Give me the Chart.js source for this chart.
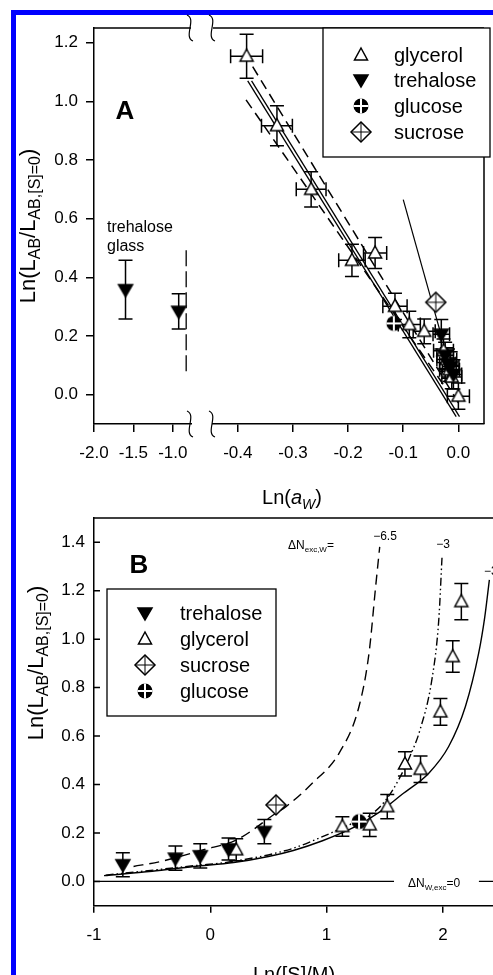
<!DOCTYPE html>
<html>
<head>
<meta charset="utf-8">
<script src="https://cdn.jsdelivr.net/npm/chart.js@4.4.0/dist/chart.umd.min.js"></script>
<style>
  html, body { margin: 0; padding: 0; background: #fff; }
  body { width: 493px; height: 975px; overflow: hidden; position: relative; }
  #frame { position: absolute; left: 11px; top: 10px; width: 600px; height: 1000px;
           border-left: 5px solid #0000ff; border-top: 5px solid #0000ff; box-sizing: border-box; }
  canvas { position: absolute; left: 0; }
  #chartA { top: 0; }
  #chartB { top: 495px; }
</style>
</head>
<body>
<div id="frame"></div>
<canvas id="chartA" width="493" height="510"></canvas>
<canvas id="chartB" width="510" height="490"></canvas>
<script>
const FONT = "'Liberation Sans', Arial, sans-serif";

// ---------- panel A : x = Ln(aw), y = Ln(L_AB / L_AB,[S]=0) ----------
const glyA_x    = [-0.384, -0.329, -0.267, -0.193, -0.151, -0.115, -0.089, -0.062, -0.027, -0.021, -0.016, -0.012, 0.000];
const glyA_y    = [ 1.154,  0.917,  0.700,  0.458,  0.483,  0.301,  0.239,  0.216,  0.150,  0.120,  0.085,  0.060, -0.005];
const glyA_xerr = [ 0.029,  0.028,  0.027,  0.024,  0.021,  0.022,  0.020,  0.020,  0.018,  0.018,  0.018,  0.018,  0.020];
const glyA_yerr = [ 0.075,  0.068,  0.060,  0.055,  0.053,  0.045,  0.045,  0.042,  0.040,  0.040,  0.040,  0.040,  0.045];

const treA_x    = [-1.600, -0.925, -0.031, -0.024, -0.019, -0.014, -0.009];
const treA_y    = [ 0.358,  0.284,  0.206,  0.134,  0.106,  0.096,  0.069];
const treA_xerr = [ 0,      0,      0.015,  0.015,  0.015,  0.015,  0.015];
const treA_yerr = [ 0.100,  0.060,  0.050,  0.045,  0.050,  0.050,  0.050];

const gluA_x = [-0.117];
const gluA_y = [ 0.243];
const sucA_x = [-0.041];
const sucA_y = [ 0.315];

const fitA1_x = [-0.382, -0.004];
const fitA1_y = [ 1.070, -0.075];
const fitA2_x = [-0.375,  0.002];
const fitA2_y = [ 1.070, -0.075];
const confA1_x = [-0.385, -0.022];
const confA1_y = [ 1.005,  0.020];
const confA2_x = [-0.373,  0.004];
const confA2_y = [ 1.118, -0.040];
const sucLineA_x = [-0.100, -0.033];
const sucLineA_y = [ 0.665,  0.215];
const glassLine_x = [-0.83, -0.83];
const glassLine_y = [ 0.08,  0.50];

const ticksA_x = [-2.0, -1.5, -1.0, -0.4, -0.3, -0.2, -0.1, 0.0];
const ticksA_y = [0.0, 0.2, 0.4, 0.6, 0.8, 1.0, 1.2];

// ---------- panel B : x = Ln([S]/M) ----------
const treB_x    = [-0.752, -0.300, -0.086, 0.157, 0.465];
const treB_y    = [ 0.069,  0.096,  0.106, 0.134, 0.206];
const treB_yerr = [ 0.050,  0.050,  0.050, 0.045, 0.050];

const glyB_x    = [0.223, 1.136, 1.371, 1.522, 1.674, 1.808, 1.979, 2.085, 2.159];
const glyB_y    = [0.131, 0.227, 0.234, 0.309, 0.485, 0.463, 0.700, 0.928, 1.155];
const glyB_yerr = [0.045, 0.040, 0.048, 0.050, 0.050, 0.055, 0.055, 0.065, 0.075];

const sucB_x = [0.565];
const sucB_y = [0.316];
const gluB_x = [1.279];
const gluB_y = [0.247];

// model curves, dNexc,W = -6.5 (dashed), -3 (dash-dot), -3 (solid)
const curve65_x = [-0.66, -0.43, -0.057, 0.228, 0.565, 0.651, 0.879, 1.108, 1.279, 1.365, 1.422, 1.457];
const curve65_y = [0.062, 0.082, 0.131, 0.172, 0.282, 0.309, 0.406, 0.530, 0.722, 0.942, 1.217, 1.381];
const curve3a_x = [-0.90, -0.14, 0.20, 0.70, 0.965, 1.20, 1.365, 1.50, 1.62, 1.72, 1.80, 1.908, 1.965, 1.993];
const curve3a_y = [0.026, 0.065, 0.083, 0.135, 0.185, 0.235, 0.270, 0.330, 0.420, 0.520, 0.620, 0.840, 1.080, 1.340];
const curve3b_x = [-0.914, -0.5, -0.143, 0.2, 0.5, 0.714, 0.965, 1.251, 1.451, 1.65, 1.879, 2.05, 2.194, 2.308, 2.36, 2.40];
const curve3b_y = [0.024, 0.042, 0.062, 0.078, 0.103, 0.128, 0.168, 0.227, 0.285, 0.360, 0.447, 0.557, 0.722, 0.942, 1.090, 1.245];
const zeroB1_x = [-1.0, 1.58];
const zeroB2_x = [2.31, 2.5];
const zero_y = [0, 0];

const ticksB_x = [-1, 0, 1, 2];
const ticksB_y = [0.0, 0.2, 0.4, 0.6, 0.8, 1.0, 1.2, 1.4];

// ---------- helpers ----------
Chart.defaults.font.family = FONT;
Chart.defaults.color = '#000';

// broken x axis of panel A: left part -2.0..-0.8, right part -0.445..0.05
function xvA(r) { return r < -0.6 ? (r + 2.0) * 80 : 370 + 560 * r; }
function ident(v) { return v; }

function drawMarker(ctx, type, x, y) {
  ctx.save();
  ctx.lineWidth = 1.5; ctx.strokeStyle = '#000'; ctx.fillStyle = '#000';
  ctx.beginPath();
  if (type === 'tri') {
    ctx.moveTo(x, y - 7); ctx.lineTo(x + 6.5, y + 5); ctx.lineTo(x - 6.5, y + 5); ctx.closePath();
    ctx.fillStyle = '#fff'; ctx.fill(); ctx.stroke();
  } else if (type === 'inv') {
    ctx.moveTo(x - 7, y - 5); ctx.lineTo(x + 7, y - 5); ctx.lineTo(x, y + 7); ctx.closePath();
    ctx.fill(); ctx.stroke();
  } else if (type === 'glu') {
    ctx.arc(x, y, 7.5, 0, Math.PI * 2); ctx.fill();
    ctx.strokeStyle = '#fff'; ctx.lineWidth = 2;
    ctx.beginPath();
    ctx.moveTo(x - 7.5, y); ctx.lineTo(x + 7.5, y); ctx.moveTo(x, y - 7.5); ctx.lineTo(x, y + 7.5);
    ctx.stroke();
  } else if (type === 'suc') {
    ctx.moveTo(x, y - 10); ctx.lineTo(x + 10, y); ctx.lineTo(x, y + 10); ctx.lineTo(x - 10, y); ctx.closePath();
    ctx.fillStyle = '#fff'; ctx.fill(); ctx.stroke();
    ctx.beginPath(); ctx.lineWidth = 1;
    ctx.moveTo(x - 10, y); ctx.lineTo(x + 10, y); ctx.moveTo(x, y - 10); ctx.lineTo(x, y + 10);
    ctx.stroke();
  }
  ctx.restore();
}

const markerImg = {};
['tri', 'inv', 'glu', 'suc'].forEach(t => {
  const c = document.createElement('canvas');
  c.width = 26; c.height = 26;
  drawMarker(c.getContext('2d'), t, 13, 13);
  markerImg[t] = c;
});

function fontOf(p) {
  return (p.bold ? 'bold ' : '') + (p.italic ? 'italic ' : '') + p.size + 'px ' + FONT;
}
// draws a run of text pieces (with sub-scripts) ; align 'center' or 'left'
function drawRich(ctx, parts, x, y, rot, align) {
  ctx.save();
  ctx.translate(x, y);
  if (rot) ctx.rotate(rot);
  ctx.fillStyle = '#000'; ctx.textAlign = 'left'; ctx.textBaseline = 'alphabetic';
  let w = 0;
  parts.forEach(p => { ctx.font = fontOf(p); w += ctx.measureText(p.t).width; });
  let cx = align === 'left' ? 0 : -w / 2;
  parts.forEach(p => {
    ctx.font = fontOf(p);
    ctx.fillText(p.t, cx, p.dy || 0);
    cx += ctx.measureText(p.t).width;
  });
  ctx.restore();
}

function drawLegend(ctx, box, entries, mx, tx) {
  ctx.save();
  ctx.strokeStyle = '#000'; ctx.lineWidth = 1.3;
  ctx.fillStyle = '#fff';
  ctx.fillRect(box[0], box[1], box[2] - box[0], box[3] - box[1]);
  ctx.strokeRect(box[0], box[1], box[2] - box[0], box[3] - box[1]);
  ctx.fillStyle = '#000';
  ctx.font = '20px ' + FONT;
  ctx.textBaseline = 'middle';
  entries.forEach(e => {
    drawMarker(ctx, e[0], mx, e[2]);
    ctx.fillText(e[1], tx, e[2] + 1);
  });
  ctx.restore();
}

function squiggle(ctx, cx, cy) {
  ctx.beginPath();
  ctx.moveTo(cx - 3, cy - 13);
  ctx.bezierCurveTo(cx + 7, cy - 9, cx - 7, cy + 9, cx + 3, cy + 13);
  ctx.stroke();
}

function pts(xs, ys, fx) { return xs.map((x, i) => ({ x: fx(x), y: ys[i] })); }

const errorBars = {
  id: 'errorBars',
  beforeDatasetsDraw(chart) {
    const ctx = chart.ctx, xs = chart.scales.x, ys = chart.scales.y;
    ctx.save();
    ctx.strokeStyle = '#000'; ctx.lineWidth = 1.5;
    chart.data.datasets.forEach(ds => {
      if (!ds.rawX || (!ds.errY && !ds.errX)) return;
      ds.rawX.forEach((rx, i) => {
        const ry = ds.rawY[i];
        const px = xs.getPixelForValue(ds.fx(rx)), py = ys.getPixelForValue(ry);
        const ey = ds.errY ? ds.errY[i] : 0, ex = ds.errX ? ds.errX[i] : 0;
        ctx.beginPath();
        if (ey) {
          const y1 = ys.getPixelForValue(ry + ey), y2 = ys.getPixelForValue(ry - ey);
          ctx.moveTo(px, y1); ctx.lineTo(px, y2);
          ctx.moveTo(px - 7, y1); ctx.lineTo(px + 7, y1);
          ctx.moveTo(px - 7, y2); ctx.lineTo(px + 7, y2);
        }
        if (ex) {
          const x1 = xs.getPixelForValue(ds.fx(rx - ex)), x2 = xs.getPixelForValue(ds.fx(rx + ex));
          ctx.moveTo(x1, py); ctx.lineTo(x2, py);
          ctx.moveTo(x1, py - 7); ctx.lineTo(x1, py + 7);
          ctx.moveTo(x2, py - 7); ctx.lineTo(x2, py + 7);
        }
        ctx.stroke();
      });
    });
    ctx.restore();
  }
};

function markerSet(xs, ys, type, fx, errX, errY) {
  return { data: pts(xs, ys, fx), pointStyle: markerImg[type], pointRadius: 8,
           rawX: xs, rawY: ys, fx: fx, errX: errX, errY: errY, showLine: false };
}
function lineSet(xs, ys, fx, dash, width, smooth) {
  return { data: pts(xs, ys, fx), showLine: true, pointRadius: 0, borderColor: '#000',
           borderWidth: width || 1.3, borderDash: dash || [], fill: false,
           cubicInterpolationMode: smooth ? 'monotone' : 'default' };
}

const tickFont = { family: FONT, size: 17 };

// ---------- panel A ----------
const panelA = {
  id: 'panelA',
  afterDraw(chart) {
    const ctx = chart.ctx, ca = chart.chartArea;
    ctx.save();
    ctx.strokeStyle = '#000'; ctx.lineWidth = 1.5;
    // frame: top with break, right side
    ctx.beginPath();
    ctx.moveTo(ca.left, ca.top); ctx.lineTo(191, ca.top);
    ctx.moveTo(213, ca.top); ctx.lineTo(ca.right, ca.top);
    ctx.moveTo(ca.right, ca.top); ctx.lineTo(ca.right, ca.bottom);
    ctx.stroke();
    // gap in the bottom axis line
    ctx.fillStyle = '#fff';
    ctx.fillRect(192, ca.bottom - 2, 20, 4);
    ctx.lineWidth = 1.2;
    squiggle(ctx, 190, ca.top);
    squiggle(ctx, 212, ca.top);
    squiggle(ctx, 190, ca.bottom);
    squiggle(ctx, 212, ca.bottom);

    ctx.fillStyle = '#000';
    ctx.font = 'bold 26px ' + FONT;
    ctx.textAlign = 'center';
    ctx.fillText('A', 125, 119);
    ctx.font = '16px ' + FONT;
    ctx.textAlign = 'left';
    ctx.fillText('trehalose', 107, 232);
    ctx.fillText('glass', 107, 251);
    ctx.restore();

    drawRich(ctx, [
      { t: 'Ln(L', size: 22 }, { t: 'AB', size: 16, dy: 5 }, { t: '/L', size: 22 },
      { t: 'AB,[S]=0', size: 16, dy: 5 }, { t: ')', size: 22 }
    ], 35, 226, -Math.PI / 2);
    drawRich(ctx, [
      { t: 'Ln(', size: 20 }, { t: 'a', size: 20, italic: true },
      { t: 'W', size: 14, italic: true, dy: 5 }, { t: ')', size: 20 }
    ], 292, 504);

    drawLegend(ctx, [323, 28, 490, 157], [
      ['tri', 'glycerol', 55], ['inv', 'trehalose', 80], ['glu', 'glucose', 106], ['suc', 'sucrose', 132]
    ], 361, 394);
  }
};

new Chart(document.getElementById('chartA'), {
  type: 'scatter',
  data: {
    datasets: [
      markerSet(sucA_x, sucA_y, 'suc', xvA),
      markerSet(gluA_x, gluA_y, 'glu', xvA),
      markerSet(treA_x, treA_y, 'inv', xvA, treA_xerr, treA_yerr),
      markerSet(glyA_x, glyA_y, 'tri', xvA, glyA_xerr, glyA_yerr),
      lineSet(sucLineA_x, sucLineA_y, xvA, [], 1.2),
      lineSet(glassLine_x, glassLine_y, xvA, [16, 5], 1.3),
      lineSet(fitA1_x, fitA1_y, xvA, [], 1.3),
      lineSet(fitA2_x, fitA2_y, xvA, [], 1.3),
      lineSet(confA1_x, confA1_y, xvA, [10, 6], 1.5),
      lineSet(confA2_x, confA2_y, xvA, [10, 6], 1.5)
    ]
  },
  options: {
    responsive: false, animation: false, devicePixelRatio: 1,
    layout: { padding: { left: 0, top: 28, right: 3, bottom: 0 } },
    plugins: { legend: { display: false }, tooltip: { enabled: false } },
    scales: {
      x: {
        type: 'linear', min: 0, max: 396,
        afterFit: s => { s.height = 86; },
        afterBuildTicks: s => { s.ticks = ticksA_x.map(v => ({ value: xvA(v) })); },
        ticks: { callback: (v, i) => ticksA_x[i].toFixed(1), font: tickFont, color: '#000',
                 padding: 11, maxRotation: 0, autoSkip: false },
        grid: { drawOnChartArea: false, tickLength: 8, color: '#000', lineWidth: 1.5 },
        border: { color: '#000', width: 1.5 }
      },
      y: {
        type: 'linear', min: -0.1, max: 1.25,
        afterFit: s => { s.width = 94; },
        afterBuildTicks: s => { s.ticks = ticksA_y.map(v => ({ value: v })); },
        ticks: { callback: v => v.toFixed(1), font: tickFont, color: '#000', padding: 8 },
        grid: { drawOnChartArea: false, tickLength: 8, color: '#000', lineWidth: 1.5 },
        border: { color: '#000', width: 1.5 }
      }
    }
  },
  plugins: [errorBars, panelA]
});

// ---------- panel B ----------
const panelB = {
  id: 'panelB',
  afterDraw(chart) {
    const ctx = chart.ctx, ca = chart.chartArea, ys = chart.scales.y;
    ctx.save();
    ctx.strokeStyle = '#000'; ctx.lineWidth = 1.5;
    ctx.beginPath();
    ctx.moveTo(ca.left, ca.top); ctx.lineTo(ca.right, ca.top);
    // inward y ticks
    ticksB_y.forEach(v => {
      const py = ys.getPixelForValue(v);
      ctx.moveTo(ca.left, py); ctx.lineTo(ca.left + 6, py);
    });
    ctx.stroke();

    ctx.fillStyle = '#000';
    ctx.font = 'bold 26px ' + FONT;
    ctx.textAlign = 'center';
    ctx.fillText('B', 139, 78);
    ctx.font = '12px ' + FONT;
    ctx.fillText('\u22126.5', 385, 45);
    ctx.fillText('\u22123', 443, 53);
    ctx.textAlign = 'left';
    ctx.fillText('\u22123', 484, 80);
    ctx.restore();

    drawRich(ctx, [
      { t: '\u0394N', size: 12 }, { t: 'exc,W', size: 8, dy: 3 }, { t: '=', size: 12 }
    ], 288, 54, 0, 'left');
    drawRich(ctx, [
      { t: '\u0394N', size: 12 }, { t: 'W,exc', size: 8, dy: 3 }, { t: '=0', size: 12 }
    ], 408, 392, 0, 'left');

    drawRich(ctx, [
      { t: 'Ln(L', size: 22 }, { t: 'AB', size: 16, dy: 5 }, { t: '/L', size: 22 },
      { t: 'AB,[S]=0', size: 16, dy: 5 }, { t: ')', size: 22 }
    ], 43, 168, -Math.PI / 2);
    drawRich(ctx, [{ t: 'Ln([S]/M)', size: 20 }], 294, 486);

    drawLegend(ctx, [107, 94, 276, 221], [
      ['inv', 'trehalose', 118], ['tri', 'glycerol', 144], ['suc', 'sucrose', 170], ['glu', 'glucose', 196]
    ], 145, 180);
  }
};

new Chart(document.getElementById('chartB'), {
  type: 'scatter',
  data: {
    datasets: [
      markerSet(gluB_x, gluB_y, 'glu', ident),
      markerSet(sucB_x, sucB_y, 'suc', ident),
      markerSet(treB_x, treB_y, 'inv', ident, null, treB_yerr),
      markerSet(glyB_x, glyB_y, 'tri', ident, null, glyB_yerr),
      lineSet(curve65_x, curve65_y, ident, [10, 6], 1.4, true),
      lineSet(curve3a_x, curve3a_y, ident, [8, 3, 1.5, 3, 1.5, 3], 1.4, true),
      lineSet(curve3b_x, curve3b_y, ident, [], 1.4, true),
      lineSet(zeroB1_x, zero_y, ident, [], 1.2),
      lineSet(zeroB2_x, zero_y, ident, [], 1.2)
    ]
  },
  options: {
    responsive: false, animation: false, devicePixelRatio: 1,
    layout: { padding: { left: 0, top: 23, right: 7.67, bottom: 0 } },
    plugins: { legend: { display: false }, tooltip: { enabled: false } },
    scales: {
      x: {
        type: 'linear', min: -1, max: 2.5,
        afterFit: s => { s.height = 79.3; },
        afterBuildTicks: s => { s.ticks = ticksB_x.map(v => ({ value: v })); },
        ticks: { callback: v => String(v), font: tickFont, color: '#000', padding: 12,
                 maxRotation: 0, autoSkip: false },
        grid: { drawOnChartArea: false, tickLength: 7, color: '#000', lineWidth: 1.5 },
        border: { color: '#000', width: 1.5 }
      },
      y: {
        type: 'linear', min: -0.1, max: 1.5,
        afterFit: s => { s.width = 94; },
        afterBuildTicks: s => { s.ticks = ticksB_y.map(v => ({ value: v })); },
        ticks: { callback: v => v.toFixed(1), font: tickFont, color: '#000', padding: 9 },
        grid: { drawOnChartArea: false, drawTicks: false, color: '#000' },
        border: { color: '#000', width: 1.5 }
      }
    }
  },
  plugins: [errorBars, panelB]
});
</script>
</body>
</html>
